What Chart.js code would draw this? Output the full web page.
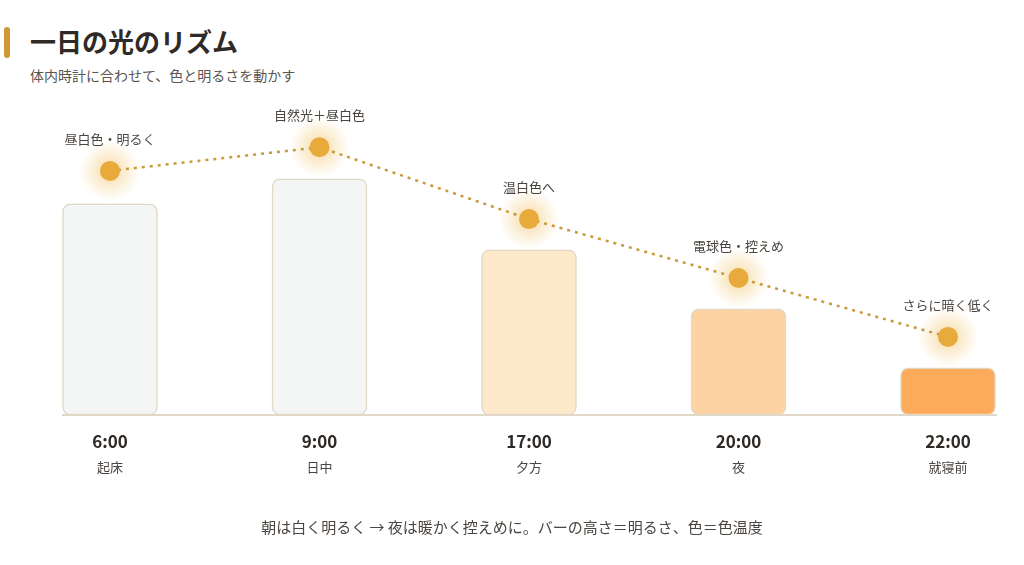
<!DOCTYPE html>
<html>
<head>
<meta charset="utf-8">
<script src="https://cdn.jsdelivr.net/npm/chart.js@4/dist/chart.umd.min.js"></script>
<style>
  body { margin:0; background:#fff; font-family:"Noto Sans CJK JP","Noto Sans",sans-serif; }
  #wrap { position:relative; width:1024px; height:565px; }
  .accent { position:absolute; left:4px; top:27px; width:6px; height:31px; border-radius:3px; background:#CF9A34; }
  h1 { position:absolute; left:30px; top:22px; margin:0; font-size:26px; font-weight:700; color:#2f2a26; }
  .sub { position:absolute; left:30px; top:65px; font-size:14px; color:#5a5550; }
  .foot { position:absolute; left:0; width:1024px; top:516px; text-align:center; font-size:15px; color:#4a4540; }
  canvas { position:absolute; left:0; top:0; }
</style>
</head>
<body>
<div id="wrap">
  <div class="accent"></div>
  <h1>一日の光のリズム</h1>
  <div class="sub">体内時計に合わせて、色と明るさを動かす</div>
  <canvas id="c" width="1024" height="565"></canvas>
  <div class="foot">朝は白く明るく → 夜は暖かく控えめに。バーの高さ＝明るさ、色＝色温度</div>
</div>
<script>
var times = ["6:00", "9:00", "17:00", "20:00", "22:00"];
var scenes = ["起床", "日中", "夕方", "夜", "就寝前"];
var brightness = [67, 75, 52.4, 33.7, 15];
var lightLevel = [77.5, 85, 62.2, 43.5, 24.8];
var notes = ["昼白色・明るく", "自然光＋昼白色", "温白色へ", "電球色・控えめ", "さらに暗く低く"];
var barColors = ["#F4F6F5", "#F4F6F5", "#FEEACB", "#FDD3A3", "#FDAA5B"];

var extras = {
  id: "extras",
  beforeDatasetsDraw: function(chart) {
    var ctx = chart.ctx, y = chart.scales.y.getPixelForValue(0);
    ctx.save();
    ctx.strokeStyle = "#E2D8C8"; ctx.lineWidth = 2;
    ctx.beginPath(); ctx.moveTo(62, y); ctx.lineTo(997, y); ctx.stroke();
    // glow behind points
    var meta = chart.getDatasetMeta(1);
    meta.data.forEach(function(p) {
      var g = ctx.createRadialGradient(p.x, p.y, 0, p.x, p.y, 30);
      g.addColorStop(0, "rgba(240,190,90,0.55)");
      g.addColorStop(1, "rgba(240,190,90,0)");
      ctx.fillStyle = g;
      ctx.beginPath(); ctx.arc(p.x, p.y, 30, 0, Math.PI * 2); ctx.fill();
    });
    ctx.restore();
  },
  afterDatasetsDraw: function(chart) {
    var ctx = chart.ctx, meta = chart.getDatasetMeta(1);
    var by = chart.scales.y.getPixelForValue(0);
    ctx.save();
    ctx.textAlign = "center";
    meta.data.forEach(function(p, i) {
      ctx.fillStyle = "#4a4540";
      ctx.font = "13px 'Noto Sans CJK JP'";
      ctx.fillText(notes[i], p.x, p.y - 27);
      ctx.fillStyle = "#2f2a26";
      ctx.font = "bold 17px 'Noto Sans CJK JP'";
      ctx.fillText(times[i], p.x, by + 33);
      ctx.fillStyle = "#4a4540";
      ctx.font = "13px 'Noto Sans CJK JP'";
      ctx.fillText(scenes[i], p.x, by + 57);
    });
    ctx.restore();
  }
};

new Chart(document.getElementById("c"), {
  type: "bar",
  data: {
    labels: times,
    datasets: [
      {
        type: "line",
        data: lightLevel,
        borderColor: "#C99A3A",
        borderWidth: 2.5,
        borderDash: [3, 5],
        pointRadius: 0,
        clip: false,
        order: 1
      },
      {
        type: "line",
        data: lightLevel,
        showLine: false,
        pointRadius: 10,
        pointBackgroundColor: "#E7AA3B",
        pointBorderWidth: 0,
        clip: false,
        order: 0
      },
      {
        data: brightness,
        backgroundColor: barColors,
        borderColor: "#E2D8C8",
        borderWidth: 1.5,
        borderSkipped: false,
        borderRadius: 8,
        barThickness: 95,
        clip: false,
        order: 2
      }
    ]
  },
  options: {
    responsive: false,
    animation: false,
    layout: { padding: { left: 110, right: 76, top: 100, bottom: 150 } },
    plugins: { legend: { display: false }, tooltip: { enabled: false } },
    scales: {
      x: { offset: false, display: false },
      y: { min: 0, max: 100, display: false }
    }
  },
  plugins: [extras]
});
</script>
</body>
</html>
